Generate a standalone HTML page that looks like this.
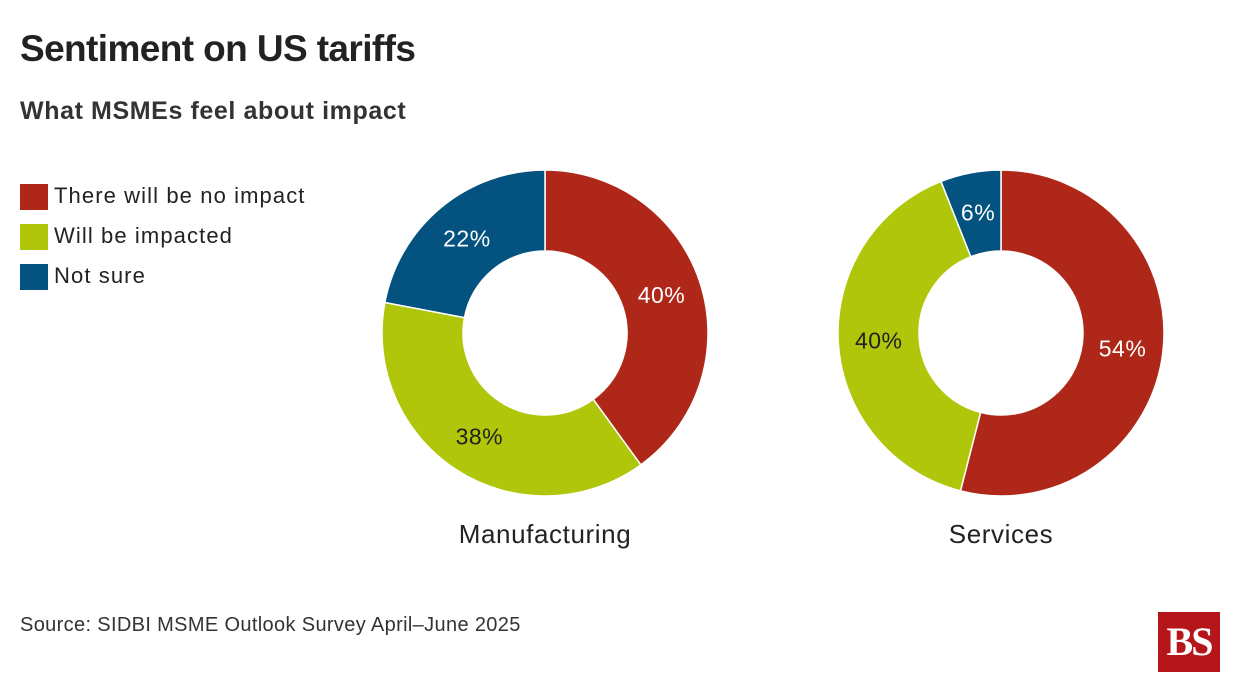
<!DOCTYPE html>
<html><head><meta charset="utf-8"><style>
body{margin:0;background:#fff;font-family:"Liberation Sans",sans-serif;color:#222}
#wrap{position:relative;width:1240px;height:692px;overflow:hidden}
.t{position:absolute;white-space:nowrap}
</style></head><body>
<div id="wrap">
<div class="t" style="left:20px;top:28px;font-size:37px;font-weight:bold;letter-spacing:-0.6px">Sentiment on US tariffs</div>
<div class="t" style="left:20px;top:97px;font-size:25px;font-weight:bold;color:#333;letter-spacing:0.6px">What MSMEs feel about impact</div>
<div class="t" style="left:20px;top:176px;font-size:22px;line-height:40px;letter-spacing:1.1px">
<div><span style="display:inline-block;width:28px;height:26px;background:#ae2718;vertical-align:middle;margin-right:6px"></span>There will be no impact</div>
<div><span style="display:inline-block;width:28px;height:26px;background:#afc60a;vertical-align:middle;margin-right:6px"></span>Will be impacted</div>
<div><span style="display:inline-block;width:28px;height:26px;background:#03527f;vertical-align:middle;margin-right:6px"></span>Not sure</div>
</div>
<svg id="svg" width="1240" height="692" style="position:absolute;left:0;top:0"></svg>
<div class="t" style="left:20px;top:614px;font-size:20px;color:#333;letter-spacing:0.35px">Source: SIDBI MSME Outlook Survey April–June 2025</div>
<div class="t" style="left:1158px;top:612px;width:62px;height:60px;background:#b5161b;color:#fff;font-family:'Liberation Serif',serif;font-weight:bold;font-size:40px;line-height:60px;text-align:center;letter-spacing:-2px">BS</div>
</div>
<script>
const groups = ["Manufacturing", "Services"];
const noImpact = [40, 54];
const impacted = [38, 40];
const notSure = [22, 6];
const colors = ["#ae2718", "#afc60a", "#03527f"];
const centersX = [545, 1001];
const cy = 333, R = 163, r = 82;
const svg = document.getElementById('svg');
const NS = "http://www.w3.org/2000/svg";
function pt(a, rad, cx){return [cx + rad*Math.sin(a), cy - rad*Math.cos(a)];}
groups.forEach((g, gi) => {
  const vals = [noImpact[gi], impacted[gi], notSure[gi]];
  const tot = vals.reduce((a,b)=>a+b,0);
  const cx = centersX[gi];
  let a0 = 0;
  vals.forEach((v, i) => {
    const a1 = a0 + v/tot*2*Math.PI;
    const large = (a1-a0) > Math.PI ? 1 : 0;
    const [x1,y1]=pt(a0,R,cx),[x2,y2]=pt(a1,R,cx),[x3,y3]=pt(a1,r,cx),[x4,y4]=pt(a0,r,cx);
    const p = document.createElementNS(NS,'path');
    p.setAttribute('d',`M${x1},${y1}A${R},${R} 0 ${large} 1 ${x2},${y2}L${x3},${y3}A${r},${r} 0 ${large} 0 ${x4},${y4}Z`);
    p.setAttribute('fill',colors[i]);
    p.setAttribute('stroke','#fff');
    p.setAttribute('stroke-width','1.5');
    
    
    svg.appendChild(p);
    const am = (a0+a1)/2;
    const [lx,ly] = pt(am,(R+r)/2,cx);
    const t = document.createElementNS(NS,'text');
    t.setAttribute('x',lx); t.setAttribute('y',ly+8);
    t.setAttribute('text-anchor','middle');
    t.setAttribute('font-size','23');
    t.setAttribute('letter-spacing','0.5');
    t.setAttribute('font-family','Liberation Sans, sans-serif');
    t.setAttribute('fill', i===1 ? '#222' : '#fff');
    t.textContent = v + '%';
    
    
    svg.appendChild(t);
    a0 = a1;
  });
  const t = document.createElementNS(NS,'text');
  t.setAttribute('x',cx); t.setAttribute('y',543);
  t.setAttribute('text-anchor','middle');
  t.setAttribute('font-size','26');
  t.setAttribute('letter-spacing','0.6');
  t.setAttribute('font-family','Liberation Sans, sans-serif');
  t.setAttribute('fill','#222');
  t.textContent = g;
  
  
  svg.appendChild(t);
});
</script>
</body></html>
